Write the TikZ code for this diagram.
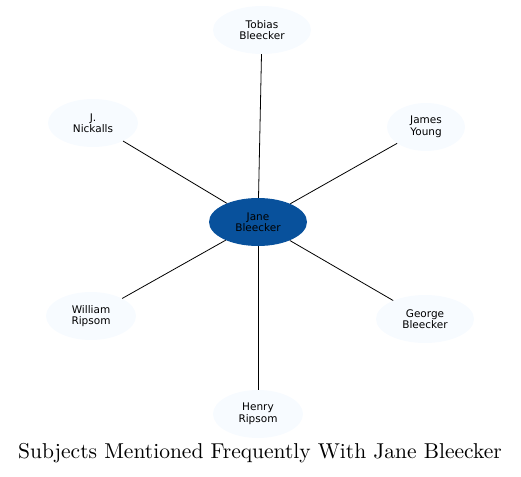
\documentclass[tikz,border=0pt]{standalone}
\usepackage{fontspec}
\newfontfamily\nodefont{DejaVu Sans}
\newfontfamily\titlefont{lmroman10-regular}[Extension=.otf]
\usetikzlibrary{shapes.geometric}
\definecolor{centerfill}{HTML}{08519C}
\definecolor{outerfill}{HTML}{F7FBFF}
\tikzset{
  outer/.style={ellipse, fill=outerfill, draw=none, inner sep=0pt, minimum width=#1, minimum height=48pt, font=\nodefont\fontsize{10.5}{11.5}\selectfont, align=center},
  outer/.default=90pt,
  center/.style={ellipse, fill=centerfill, draw=none, inner sep=0pt, minimum width=98pt, minimum height=48pt, font=\nodefont\fontsize{10.5}{11.5}\selectfont, align=center},
  link/.style={draw=black, line width=0.8pt}
}
\begin{document}
\begin{tikzpicture}[x=1pt,y=-1pt]
\useasboundingbox (0,0) rectangle (521,476);
\node[center] (jane) at (258,222) {Jane\\Bleecker};
\node[outer=98pt] (tobias) at (262,30) {Tobias\\Bleecker};
\node[outer=90pt] (nickalls) at (93,123) {J.\\Nickalls};
\node[outer=78pt] (james) at (426,127) {James\\Young};
\node[outer=90pt] (william) at (91,316) {William\\Ripsom};
\node[outer=98pt] (george) at (425,319) {George\\Bleecker};
\node[outer=90pt] (henry) at (258,414) {Henry\\Ripsom};
\draw[link] (jane) -- (tobias);
\draw[link] (jane) -- (nickalls);
\draw[link] (jane) -- (james);
\draw[link] (jane) -- (william);
\draw[link] (jane) -- (george);
\draw[link] (jane) -- (henry);
\node[font=\titlefont\fontsize{21.5}{24}\selectfont] (title) at (260,453) {Subjects Mentioned Frequently With Jane Bleecker};
\end{tikzpicture}
\end{document}
